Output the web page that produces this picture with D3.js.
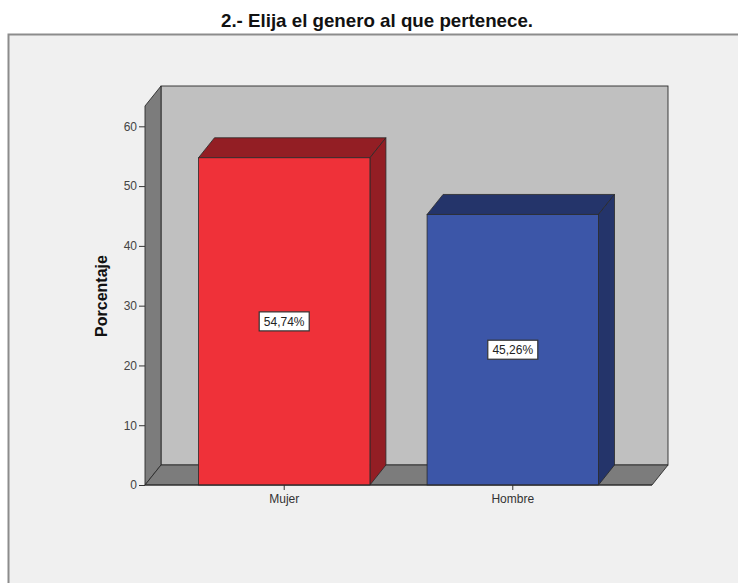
<!DOCTYPE html>
<html>
<head>
<meta charset="utf-8">
<script src="https://cdn.jsdelivr.net/npm/d3@7"></script>
<style>
  html, body { margin: 0; padding: 0; background: #ffffff; }
  svg { display: block; }
  text { font-family: "Liberation Sans", Arial, sans-serif; }
</style>
</head>
<body>
<svg id="chart" width="738" height="583"></svg>
<script>
// Survey question 2: gender of respondents, percentages
const categories = ["Mujer", "Hombre"];
const percentages = [54.74, 45.26];
const valueLabels = ["54,74%", "45,26%"];
const yTicks = [0, 10, 20, 30, 40, 50, 60];
const title = "2.- Elija el genero al que pertenece.";
const yTitle = "Porcentaje";

const frontColors = ["#ef3139", "#3c56a8"];
const darkColors = ["#931e24", "#24346a"];

const svg = d3.select("#chart");
const W = 738, H = 583;

// depth offset of the 3D box
const DX = 16, DY = 20;

const x = d3.scaleBand()
  .domain(categories)
  .range([145, 652])
  .paddingInner(0.25)
  .paddingOuter(0.234);

const yMax = 63.4;
const y = d3.scaleLinear().domain([0, yMax]).range([485, 106]);

// outer panel
svg.append("rect")
  .attr("x", 8.5).attr("y", 34.5)
  .attr("width", W + 20).attr("height", H)
  .attr("fill", "#f0f0f0")
  .attr("stroke", "#8c8c8c")
  .attr("stroke-width", 2);

// title
svg.append("text")
  .attr("x", 377).attr("y", 27)
  .attr("text-anchor", "middle")
  .attr("font-size", 18.5)
  .attr("font-weight", "bold")
  .attr("fill", "#111")
  .attr("textLength", 312)
  .attr("lengthAdjust", "spacingAndGlyphs")
  .text(title);

const x0 = x.range()[0], x1 = x.range()[1];
const y0 = y(0), yTop = y(yMax);
const edge = "#2a2a2a";

// back wall
svg.append("rect")
  .attr("x", x0 + DX).attr("y", yTop - DY)
  .attr("width", x1 - x0).attr("height", y0 - yTop)
  .attr("fill", "#c0c0c0")
  .attr("stroke", edge).attr("stroke-width", 0.9);

// left wall
svg.append("path")
  .attr("d", `M${x0},${y0} L${x0},${yTop} L${x0 + DX},${yTop - DY} L${x0 + DX},${y0 - DY} Z`)
  .attr("fill", "#7c7c7c")
  .attr("stroke", edge).attr("stroke-width", 0.9);

// floor
svg.append("path")
  .attr("d", `M${x0},${y0} L${x1},${y0} L${x1 + DX},${y0 - DY} L${x0 + DX},${y0 - DY} Z`)
  .attr("fill", "#7c7c7c")
  .attr("stroke", edge).attr("stroke-width", 0.9);

// y axis ticks and labels
const yAxis = d3.axisLeft(y).tickValues(yTicks).tickSize(6).tickPadding(2).tickFormat(d3.format("d"));
const gy = svg.append("g").attr("transform", `translate(${x0},0)`).call(yAxis);
gy.select(".domain").remove();
gy.selectAll(".tick line").attr("stroke", "#333");
gy.selectAll(".tick text")
  .attr("font-size", 12)
  .attr("fill", "#444")
  .style("font-family", "'Liberation Sans', Arial, sans-serif");

// x axis ticks and labels
const xAxis = d3.axisBottom(x).tickSize(5).tickPadding(4);
const gx = svg.append("g").attr("transform", `translate(0,${y0})`).call(xAxis);
gx.select(".domain").remove();
gx.selectAll(".tick line").attr("stroke", "#333");
gx.selectAll(".tick text")
  .attr("font-size", 12)
  .attr("fill", "#333")
  .style("font-family", "'Liberation Sans', Arial, sans-serif");

// y axis title
svg.append("text")
  .attr("transform", `translate(107,296) rotate(-90)`)
  .attr("text-anchor", "middle")
  .attr("font-size", 16)
  .attr("font-weight", "bold")
  .attr("fill", "#111")
  .text(yTitle);

// bars
const bars = svg.append("g").selectAll("g.bar")
  .data(categories.map((c, i) => ({ c, v: percentages[i], label: valueLabels[i], i })))
  .join("g").attr("class", "bar");

bars.each(function(d) {
  const g = d3.select(this);
  const bx = x(d.c), bw = x.bandwidth();
  const by = y(d.v);
  // top face
  g.append("path")
    .attr("d", `M${bx},${by} L${bx + DX},${by - DY} L${bx + bw + DX},${by - DY} L${bx + bw},${by} Z`)
    .attr("fill", darkColors[d.i])
    .attr("stroke", edge).attr("stroke-width", 0.8);
  // side face
  g.append("path")
    .attr("d", `M${bx + bw},${by} L${bx + bw + DX},${by - DY} L${bx + bw + DX},${y0 - DY} L${bx + bw},${y0} Z`)
    .attr("fill", darkColors[d.i])
    .attr("stroke", edge).attr("stroke-width", 0.8);
  // front face
  g.append("rect")
    .attr("x", bx).attr("y", by)
    .attr("width", bw).attr("height", y0 - by)
    .attr("fill", frontColors[d.i])
    .attr("stroke", edge).attr("stroke-width", 0.8);

  // value label box
  const cx = bx + bw / 2, cy = (by + y0) / 2;
  g.append("rect")
    .attr("x", cx - 25).attr("y", cy - 9.5)
    .attr("width", 50).attr("height", 19)
    .attr("fill", "#ffffff")
    .attr("stroke", "#333").attr("stroke-width", 1.2);
  g.append("text")
    .attr("x", cx).attr("y", cy + 4.3)
    .attr("text-anchor", "middle")
    .attr("font-size", 12)
    .attr("fill", "#222")
    .text(d.label);
});

// front floor edge drawn over the bar bases
svg.append("line")
  .attr("x1", x0).attr("x2", x1)
  .attr("y1", y0).attr("y2", y0)
  .attr("stroke", edge).attr("stroke-width", 1);
</script>
</body>
</html>
